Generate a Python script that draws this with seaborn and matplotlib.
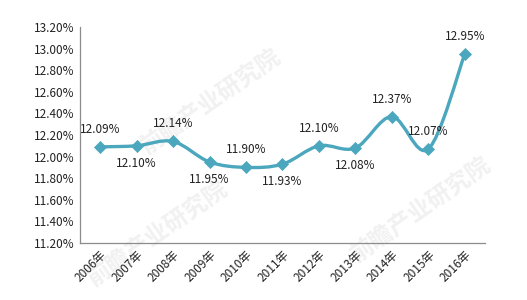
import numpy as np
import pandas as pd
import matplotlib
matplotlib.use("Agg")
import matplotlib.pyplot as plt
from matplotlib.path import Path
from matplotlib.patches import PathPatch
import seaborn as sns

years = ["2006年", "2007年", "2008年", "2009年", "2010年", "2011年",
         "2012年", "2013年", "2014年", "2015年", "2016年"]
values = [12.09, 12.10, 12.14, 11.95, 11.90, 11.93, 12.10, 12.08, 12.37, 12.07, 12.95]
label_pos = ["above", "below", "above", "below", "above", "below",
             "above", "below", "above", "above", "above"]
yticks = [11.2, 11.4, 11.6, 11.8, 12.0, 12.2, 12.4, 12.6, 12.8, 13.0, 13.2]

sns.set_theme(style="white")
plt.rcParams['font.family'] = ['Noto Sans CJK SC', 'DejaVu Sans']

color = "#4BA7BD"
fig = plt.figure(figsize=(5.27, 3.0), dpi=100)

# faint watermark behind everything
bg = fig.add_axes([0, 0, 1, 1], zorder=-1)
bg.set_axis_off()
for (wx, wy) in [(0.40, 0.66), (0.30, 0.22), (0.80, 0.30)]:
    bg.text(wx, wy, "前瞻产业研究院", fontsize=17, color="#f1f1f1", rotation=35,
            ha="center", va="center", fontweight="bold", transform=bg.transAxes)

ax = fig.add_axes([0.152, 0.19, 0.768, 0.72])
df = pd.DataFrame({"idx": np.arange(len(years)), "val": values})

# smooth curve (Catmull-Rom style bezier through the data points)
pts = np.column_stack([df["idx"].values.astype(float), df["val"].values])
ext = np.vstack([pts[0], pts, pts[-1]])
verts = [tuple(pts[0])]
codes = [Path.MOVETO]
for i in range(len(pts) - 1):
    p0, p1, p2, p3 = ext[i], ext[i + 1], ext[i + 2], ext[i + 3]
    c1 = p1 + (p2 - p0) / 6.0
    c2 = p2 - (p3 - p1) / 6.0
    verts += [tuple(c1), tuple(c2), tuple(p2)]
    codes += [Path.CURVE4] * 3
ax.add_patch(PathPatch(Path(verts, codes), facecolor="none", edgecolor=color,
                       lw=2.4, zorder=2, capstyle="round", joinstyle="round"))

sns.scatterplot(data=df, x="idx", y="val", marker="D", s=38, color=color,
                edgecolor=color, ax=ax, zorder=3, legend=False)

for i, (v, pos) in enumerate(zip(values, label_pos)):
    off = 8 if pos == "above" else -8
    ax.annotate(f"{v:.2f}%", (i, v), xytext=(0, off), textcoords="offset points",
                ha="center", va="bottom" if pos == "above" else "top",
                fontsize=8.5, color="#222222", zorder=4)

ax.set_xlim(-0.55, len(years) - 0.45)
ax.set_ylim(11.2, 13.2)
ax.set_yticks(yticks)
ax.set_yticklabels([f"{t:.2f}%" for t in yticks], fontsize=8.5, color="#222222")
ax.set_xticks(range(len(years)))
ax.set_xticklabels(years, rotation=45, ha="right", rotation_mode="anchor",
                   fontsize=8.5, color="#222222")
ax.tick_params(axis="both", length=0, pad=4)
ax.set_xlabel("")
ax.set_ylabel("")
for s in ["top", "right"]:
    ax.spines[s].set_visible(False)
for s in ["left", "bottom"]:
    ax.spines[s].set_color("#8c8c8c")
    ax.spines[s].set_linewidth(0.9)
ax.patch.set_alpha(0)

fig.savefig("out.png", dpi=100)
